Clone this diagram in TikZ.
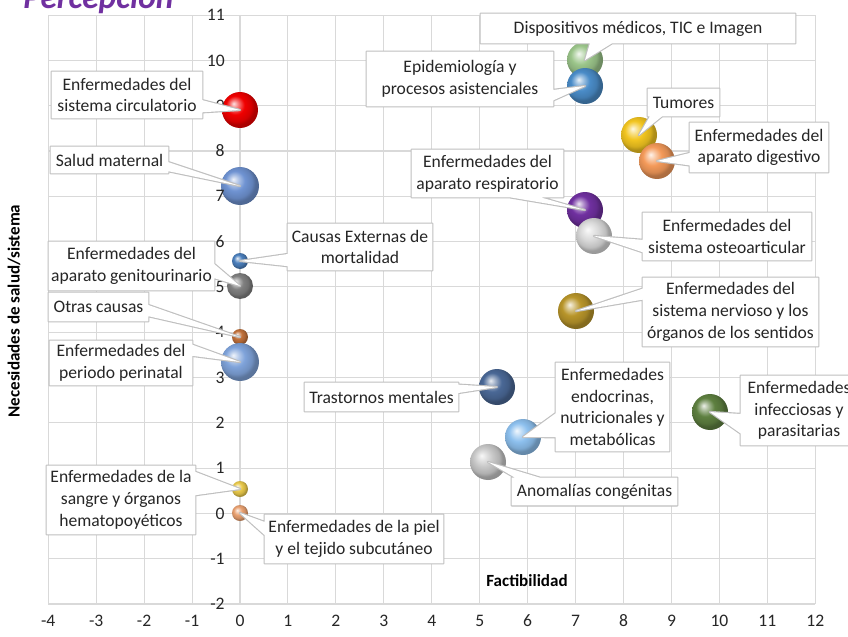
\documentclass[tikz,border=0pt]{standalone}
\usepackage{fontspec}
\setmainfont{Carlito}
\usetikzlibrary{calc}
\pgfdeclarelayer{background}
\pgfdeclarelayer{ticks}
\pgfdeclarelayer{cstroke}
\pgfdeclarelayer{cfill}
\pgfdeclarelayer{ctext}
\pgfsetlayers{background,main,ticks,cstroke,cfill,ctext}

\definecolor{gridgray}{HTML}{D9D9D9}
\definecolor{boxgray}{HTML}{BFBFBF}
\definecolor{txtgray}{HTML}{262626}
\definecolor{titlepurple}{HTML}{7030A0}
\definecolor{cred}{HTML}{F00000}
\definecolor{cmat}{HTML}{6F93D2}
\definecolor{cext}{HTML}{4A7EBB}
\definecolor{cgeni}{HTML}{7F7F7F}
\definecolor{cotras}{HTML}{C0703A}
\definecolor{cperi}{HTML}{7FA3DA}
\definecolor{csangre}{HTML}{E8C84A}
\definecolor{cpiel}{HTML}{E8A070}
\definecolor{cdisp}{HTML}{9BC58A}
\definecolor{cepi}{HTML}{4A8CC8}
\definecolor{ctum}{HTML}{F2C520}
\definecolor{cdig}{HTML}{F49A5A}
\definecolor{cresp}{HTML}{7030A0}
\definecolor{costeo}{HTML}{D8D8D8}
\definecolor{cnerv}{HTML}{B8952A}
\definecolor{ctrast}{HTML}{4A6896}
\definecolor{cendo}{HTML}{8DC0EE}
\definecolor{canom}{HTML}{C8C8C8}
\definecolor{cinfec}{HTML}{5E8040}

% soft sphere shading: light spot upper left, body colour, darker rim
\colorlet{softball}{red}
\pgfdeclareradialshading[softball]{sphere}{\pgfpoint{-9bp}{9bp}}{%
  color(0bp)=(softball!12!white);
  color(6bp)=(softball!55!white);
  color(13bp)=(softball);
  color(21bp)=(softball!88!black);
  color(25bp)=(softball!72!black);
  color(50bp)=(softball!60!black)}

% callout: box node, edge from anchor #2 to #3, base at fractions #4,#5, tip at bubble #6
\newcommand\callout[6]{%
  \begin{pgfonlayer}{cstroke}
    \draw[calloutline] (#1.south west) rectangle (#1.north east)
      ($(#1.#2)!#4!(#1.#3)$) -- (#6.center) -- ($(#1.#2)!#5!(#1.#3)$);
  \end{pgfonlayer}
  \begin{pgfonlayer}{cfill}
    \fill[white] (#1.south west) rectangle (#1.north east)
      ($(#1.#2)!#4!(#1.#3)$) -- (#6.center) -- ($(#1.#2)!#5!(#1.#3)$) -- cycle;
  \end{pgfonlayer}}

\begin{document}
\begin{tikzpicture}[x=0.02cm,y=-0.02cm,
  gridline/.style={draw=gridgray,line width=0.6pt},
  ticklbl/.style={font=\fontsize{10}{12}\selectfont,text=txtgray,inner sep=0pt},
  axistitle/.style={font=\fontsize{9.7}{12}\selectfont\bfseries,text=black,inner sep=0pt},
  bubble/.style n args={2}{circle,inner sep=0pt,
    /utils/exec={\colorlet{softball}{#1}},shade,shading=sphere,minimum size=#2*0.04cm},
  callbox/.style={align=center,inner sep=0pt,font=\fontsize{10}{12.4}\selectfont,text=txtgray},
  calloutline/.style={draw=boxgray,line width=1.3pt,line join=round}]
\useasboundingbox (0,0) rectangle (848,636);

% background and grid
\begin{pgfonlayer}{background}
  \fill[white] (0,0) rectangle (848,636);
  \foreach \k in {-4,...,12}
    \draw[gridline] ({240+47.94*\k},15.1) -- ({240+47.94*\k},604);
  \foreach \k in {-2,...,11}
    \draw[gridline] (48,{513.4-45.3*\k}) -- (815.3,{513.4-45.3*\k});
\end{pgfonlayer}

% title, cut by the top edge
\begin{scope}
  \clip (0,0) rectangle (848,636);
  \node[font=\fontsize{19}{19}\selectfont\bfseries\itshape,text=titlepurple,anchor=base west,inner sep=0pt] (title) at (23,8) {Percepción};
\end{scope}

% tick labels
\begin{pgfonlayer}{ticks}
\foreach \k in {-2,...,11}
  \node[ticklbl,anchor=east] (ytick\k) at (225,{513.4-45.3*\k}) {\k};
\foreach \k in {-4,...,12}
  \node[ticklbl] (xtick\k) at ({240+47.94*\k},621) {\k};
\end{pgfonlayer}

% axis titles
\node[axistitle,rotate=90] (ytitle) at (14,311) {Necesidades de salud/sistema};
\node[axistitle] (xtitle) at (527,581) {Factibilidad};

% bubbles
\node[bubble={cred}{18}] (b1) at (240,110) {};
\node[bubble={cmat}{19}] (b2) at (240,186) {};
\node[bubble={cext}{8}] (b3) at (240,261) {};
\node[bubble={cgeni}{13}] (b4) at (240,286) {};
\node[bubble={cotras}{8}] (b5) at (240,337) {};
\node[bubble={cperi}{19}] (b6) at (240,362) {};
\node[bubble={csangre}{8}] (b7) at (240,489) {};
\node[bubble={cpiel}{8}] (b8) at (240,513) {};
\node[bubble={cdisp}{18}] (b9) at (585,60) {};
\node[bubble={cepi}{18}] (b10) at (585,86) {};
\node[bubble={ctum}{18}] (b11) at (639,135) {};
\node[bubble={cdig}{18}] (b12) at (657,161) {};
\node[bubble={cresp}{18}] (b13) at (585,210) {};
\node[bubble={costeo}{18}] (b14) at (594,236) {};
\node[bubble={cnerv}{18}] (b15) at (576,311) {};
\node[bubble={ctrast}{18}] (b16) at (497,387) {};
\node[bubble={cendo}{18}] (b17) at (523,437) {};
\node[bubble={canom}{18}] (b18) at (488,462) {};
\node[bubble={cinfec}{18}] (b19) at (710,412) {};

% callout texts
\begin{pgfonlayer}{ctext}
\node[callbox,minimum width=3.0cm,minimum height=0.92cm] (c1) at (127,95) {Enfermedades del\\sistema circulatorio};
\node[callbox,minimum width=2.34cm,minimum height=0.52cm] (c2) at (109.5,160) {Salud maternal};
\node[callbox,minimum width=2.88cm,minimum height=0.92cm] (c3) at (360,247) {Causas Externas de\\mortalidad};
\node[callbox,minimum width=3.30cm,minimum height=0.96cm] (c4) at (131.5,266) {Enfermedades del\\aparato genitourinario};
\node[callbox,minimum width=1.98cm,minimum height=0.56cm] (c5) at (98.5,307) {Otras causas};
\node[callbox,minimum width=2.84cm,minimum height=0.88cm] (c6) at (121,363) {Enfermedades del\\periodo perinatal};
\node[callbox,minimum width=2.96cm,minimum height=1.36cm] (c7) at (121,500) {Enfermedades de la\\sangre y órganos\\hematopoyéticos};
\node[callbox,minimum width=3.56cm,minimum height=0.96cm] (c8) at (354,539) {Enfermedades de la piel\\y el tejido subcutáneo};
\node[callbox,minimum width=6.28cm,minimum height=0.58cm] (c9) at (638,28.5) {Dispositivos médicos, TIC e Imagen};
\node[callbox,minimum width=3.72cm,minimum height=1.08cm] (c10) at (460,79) {Epidemiología y\\procesos asistenciales};
\node[callbox,minimum width=1.42cm,minimum height=0.54cm] (c11) at (683.5,102.5) {Tumores};
\node[callbox,minimum width=2.76cm,minimum height=0.98cm] (c12) at (759,147.5) {Enfermedades del\\aparato digestivo};
\node[callbox,minimum width=3.02cm,minimum height=0.94cm] (c13) at (487.5,173.5) {Enfermedades del\\aparato respiratorio};
\node[callbox,minimum width=3.36cm,minimum height=0.94cm] (c14) at (727,236.5) {Enfermedades del\\sistema osteoarticular};
\node[callbox,minimum width=3.50cm,minimum height=1.36cm] (c15) at (730.5,312) {Enfermedades del\\sistema nervioso y los\\órganos de los sentidos};
\node[callbox,minimum width=3.06cm,minimum height=0.56cm] (c16) at (381.5,397) {Trastornos mentales};
\node[callbox,minimum width=2.26cm,minimum height=1.76cm] (c17) at (612.5,407) {Enfermedades\\endocrinas,\\nutricionales y\\metabólicas};
\node[callbox,minimum width=3.30cm,minimum height=0.54cm] (c18) at (594.5,491.5) {Anomalías congénitas};
\node[callbox,minimum width=2.32cm,minimum height=1.38cm] (c19) at (799,410.5) {Enfermedades\\infecciosas y\\parasitarias};
\end{pgfonlayer}

% callout frames and pointers
\callout{c1}{north east}{south east}{0.61}{0.87}{b1}
\callout{c2}{north east}{south east}{0.58}{0.92}{b2}
\callout{c3}{north west}{south west}{0.65}{0.91}{b3}
\callout{c4}{north east}{south east}{0.46}{0.75}{b4}
\callout{c5}{north east}{south east}{0.43}{0.82}{b5}
\callout{c6}{north east}{south east}{0.09}{0.34}{b6}
\callout{c7}{north east}{south east}{0.09}{0.43}{b7}
\callout{c8}{north west}{south west}{0.15}{0.42}{b8}
\callout{c9}{south west}{south east}{0.347}{0.417}{b9}
\callout{c10}{north east}{south east}{0.70}{0.89}{b10}
\callout{c11}{south west}{south east}{0.03}{0.20}{b11}
\callout{c12}{north west}{south west}{0.61}{0.86}{b12}
\callout{c13}{south west}{south east}{0.65}{0.85}{b13}
\callout{c14}{north west}{south west}{0.57}{0.83}{b14}
\callout{c15}{north west}{south west}{0.16}{0.32}{b15}
\callout{c16}{north east}{south east}{0.07}{0.36}{b16}
\callout{c17}{north west}{south west}{0.57}{0.84}{b17}
\callout{c18}{north west}{north east}{0.02}{0.17}{b18}
\callout{c19}{north west}{south west}{0.55}{0.83}{b19}
\end{tikzpicture}
\end{document}
